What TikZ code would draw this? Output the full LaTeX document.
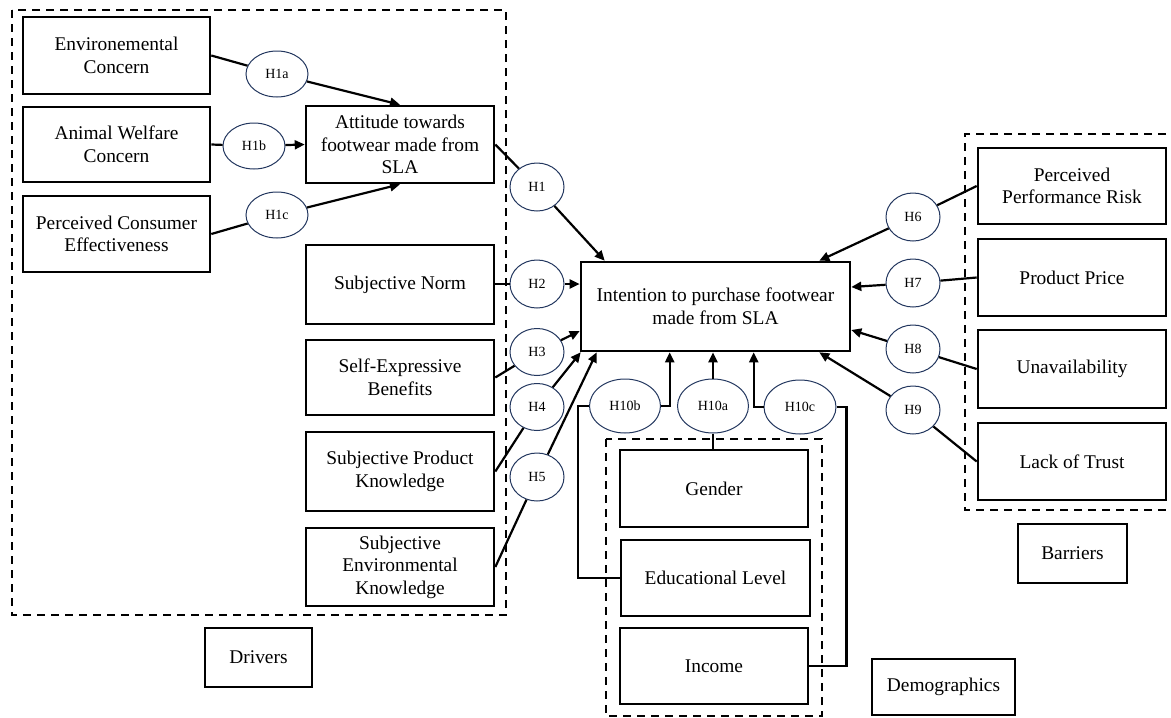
\documentclass[tikz,border=0pt]{standalone}
\usepackage{fontspec}
\setmainfont{Liberation Serif}
\usetikzlibrary{arrows.meta,shapes.geometric}
\newcommand{\boxfs}{\fontsize{19.4}{22.5}\selectfont}
\newcommand{\hypfs}{\fontsize{14}{16}\selectfont}
\definecolor{ellcol}{RGB}{35,55,95}
\begin{document}
\begin{tikzpicture}[x=1pt,y=-1pt,
  bx/.style={draw, line width=2.6pt, align=center, inner sep=0pt, font=\boxfs},
  hyp/.style={draw=ellcol, line width=1pt, ellipse, fill=white, inner sep=0pt, font=\hypfs},
  grp/.style={draw, line width=2.3pt, dash pattern=on 8pt off 6pt},
  con/.style={line width=2.2pt},
  arr/.style={con, -{Triangle[length=10pt,width=9pt]}}]
\useasboundingbox (0,0) rectangle (1171,718);

% group frames
\draw[grp] (12,10) rectangle (506,615);
\draw[grp] (606,439) rectangle (822,716);
\draw[grp] (1180,134) -- (965,134) -- (965,510) -- (1180,510);

% drivers
\node[bx, minimum width=187pt, minimum height=77pt] (env) at (116.5,55.5) {Environemental\\Concern};
\node[bx, minimum width=187pt, minimum height=75pt] (anim) at (116.5,144.5) {Animal Welfare\\Concern};
\node[bx, minimum width=187pt, minimum height=76pt] (pce) at (116.5,234) {Perceived Consumer\\Effectiveness};
\node[bx, minimum width=188pt, minimum height=77pt] (att) at (400,144.5) {Attitude towards\\footwear made from\\SLA};
\node[bx, minimum width=188pt, minimum height=79pt] (sn) at (400,284.5) {Subjective Norm};
\node[bx, minimum width=188pt, minimum height=75pt] (seb) at (400,377.5) {Self-Expressive\\Benefits};
\node[bx, minimum width=188pt, minimum height=79pt] (spk) at (400,471.5) {Subjective Product\\Knowledge};
\node[bx, minimum width=188pt, minimum height=78pt] (sek) at (400,567) {Subjective\\Environmental\\Knowledge};
\node[bx, minimum width=107pt, minimum height=59pt] (drv) at (258.5,657.5) {Drivers};

% outcome
\node[bx, minimum width=269pt, minimum height=89pt] (intent) at (715.5,306.5) {Intention to purchase footwear\\made from SLA};

% barriers
\node[bx, minimum width=188pt, minimum height=76pt] (ppr) at (1072,186) {Perceived\\Performance Risk};
\node[bx, minimum width=188pt, minimum height=77pt] (pp) at (1072,277.5) {Product Price};
\node[bx, minimum width=188pt, minimum height=78pt] (unav) at (1072,369) {Unavailability};
\node[bx, minimum width=188pt, minimum height=77pt] (lot) at (1072,461.5) {Lack of Trust};
\node[bx, minimum width=109pt, minimum height=59pt] (bar) at (1072.5,553.5) {Barriers};

% demographics
\node[bx, minimum width=188pt, minimum height=77pt] (gen) at (714,488.5) {Gender};
\node[bx, minimum width=189pt, minimum height=76pt] (edu) at (715.5,578) {Educational Level};
\node[bx, minimum width=188pt, minimum height=76pt] (inc) at (714,666) {Income};
\node[bx, minimum width=143pt, minimum height=56pt] (dem) at (943.5,687) {Demographics};

% hypotheses
\node[hyp, minimum width=62pt, minimum height=46pt] (h1a) at (277,74) {H1a};
\node[hyp, minimum width=62pt, minimum height=46pt] (h1b) at (254,146) {H1b};
\node[hyp, minimum width=62pt, minimum height=46pt] (h1c) at (277,215) {H1c};
\node[hyp, minimum width=54pt, minimum height=48pt] (h1) at (537,187) {H1};
\node[hyp, minimum width=54pt, minimum height=48pt] (h2) at (537,284) {H2};
\node[hyp, minimum width=54pt, minimum height=47pt] (h3) at (537,352) {H3};
\node[hyp, minimum width=54pt, minimum height=47pt] (h4) at (537,407) {H4};
\node[hyp, minimum width=54pt, minimum height=48pt] (h5) at (537,477) {H5};
\node[hyp, minimum width=54pt, minimum height=48pt] (h6) at (913,217) {H6};
\node[hyp, minimum width=54pt, minimum height=48pt] (h7) at (913,283) {H7};
\node[hyp, minimum width=54pt, minimum height=48pt] (h8) at (913,349) {H8};
\node[hyp, minimum width=54pt, minimum height=48pt] (h9) at (913,410) {H9};
\node[hyp, minimum width=71pt, minimum height=54pt] (h10b) at (625,406) {H10b};
\node[hyp, minimum width=71pt, minimum height=54pt] (h10a) at (713,406) {H10a};
\node[hyp, minimum width=72pt, minimum height=54pt] (h10c) at (800,407) {H10c};

% connectors: drivers of attitude
\draw[con] (env.east) -- (h1a);
\draw[arr] (h1a) -- (att.north);
\draw[con] (anim.east) -- (h1b);
\draw[arr] (h1b) -- (att.west);
\draw[con] (pce.east) -- (h1c);
\draw[arr] (h1c) -- (att.south);

% drivers of intention
\draw[con] (att.east) -- (h1);
\draw[arr] (h1) -- ([xshift=25pt]intent.north west);
\draw[con] (sn.east |- h2) -- (h2);
\draw[arr] (h2) -- (h2 -| intent.west);
\draw[con] (seb.east) -- (h3);
\draw[arr] (h3) -- ([yshift=-24.5pt]intent.west);
\draw[con] (spk.east) -- (h4);
\draw[arr] (h4) -- ([xshift=1pt]intent.south west);
\draw[con] (sek.east) -- (h5);
\draw[arr] (h5) -- ([xshift=17pt]intent.south west);

% barriers
\draw[con] (ppr.west) -- (h6);
\draw[arr] (h6) -- ([xshift=-32pt]intent.north east);
\draw[con] (pp.west) -- (h7);
\draw[arr] (h7) -- ([yshift=19.5pt]intent.east);
\draw[con] (unav.west) -- (h8);
\draw[arr] (h8) -- ([yshift=-23.5pt]intent.east);
\draw[con] (lot.west) -- (h9);
\draw[arr] (h9) -- ([xshift=-32pt]intent.south east);

% demographics
\draw[arr] (h10b.east) -| ([xshift=90pt]intent.south west);
\draw[con] (h10b.west) -- ++(-11,0) |- (edu.west);
\draw[arr] (h10a.north) -- (h10a.north |- intent.south);
\draw[con] (h10a.south) -- (h10a.south |- gen.north);
\draw[arr] (h10c.west) -| ([xshift=174pt]intent.south west);
\draw[con] (h10c.east) -- ++(10,0) |- (inc.east);
\end{tikzpicture}
\end{document}
